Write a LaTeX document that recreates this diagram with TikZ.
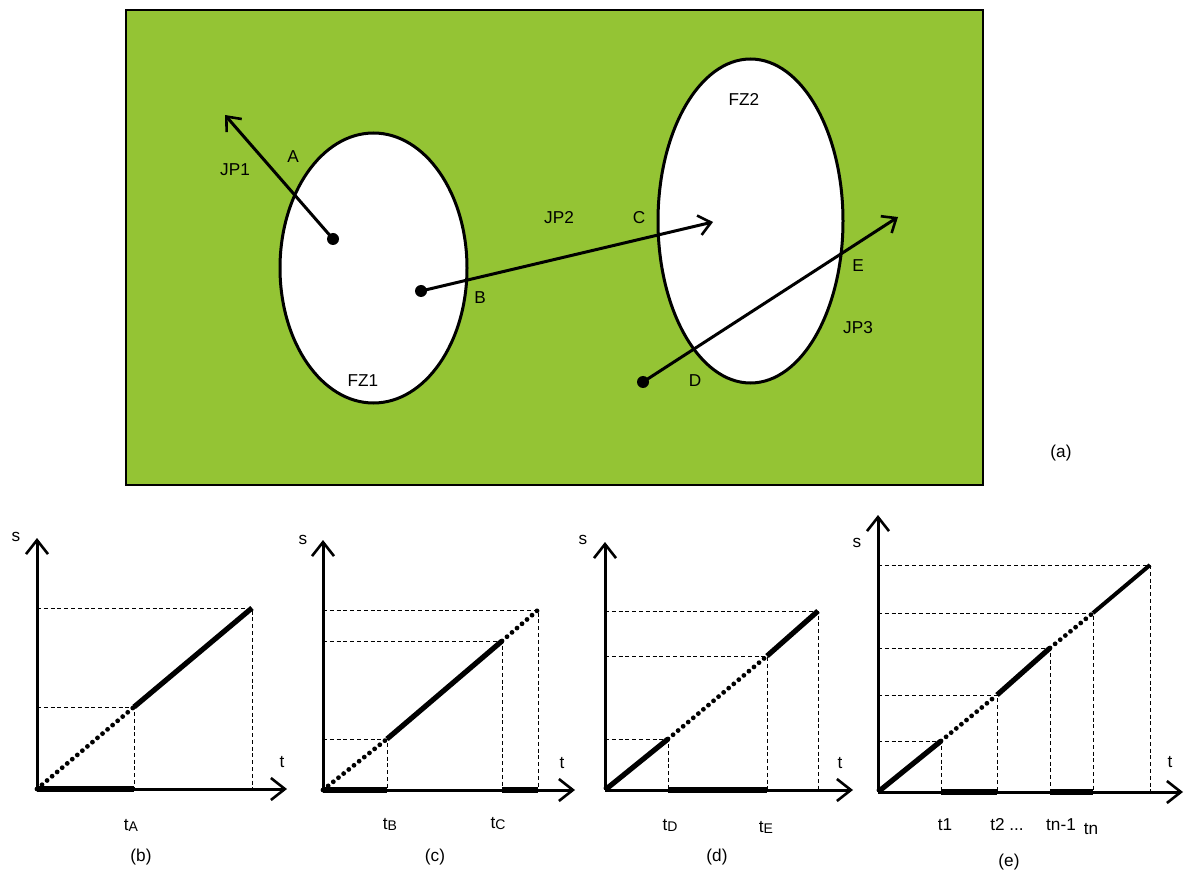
\documentclass[tikz,border=0pt]{standalone}
\usepackage{fontspec}
\setmainfont{Liberation Sans}
\usetikzlibrary{arrows.meta}
\definecolor{fieldgreen}{RGB}{148,196,52}
\tikzset{
  lbl/.style={font=\fontsize{8.6}{10}\selectfont, inner sep=0pt},
  zone/.style={draw=black, fill=white, line width=1.5pt},
  jump/.style={line width=1.5pt, -{Straight Barb[length=6pt,width=10pt,line width=1.3pt]}},
  dotpt/.style={fill=black},
  axis/.style={line width=1.5pt, -{Straight Barb[length=7pt,width=11pt,line width=1.3pt]}},
  guide/.style={line width=0.5pt, dash pattern=on 2pt off 1.4pt},
  solidseg/.style={line width=2.6pt},
  dotseg/.style={line width=2.4pt, line cap=round, dash pattern=on 0pt off 3.3pt},
  busy/.style={line width=2.6pt},
}
\newcommand{\sub}[1]{{\fontsize{7}{8}\selectfont\raisebox{-0.5pt}{#1}}}
\begin{document}
\begin{tikzpicture}[x=0.5pt,y=-0.5pt]
\useasboundingbox (0,0) rectangle (1190,877);
% ---------- (a) ----------
\draw[fill=fieldgreen, line width=1.2pt] (126,10) rectangle (983,485);
\draw[zone] (373.5,268) ellipse [x radius=93.5, y radius=135];
\draw[zone] (750.5,221) ellipse [x radius=92.5, y radius=162];
\node[lbl] (fz1) at (363,381) {FZ1};
\node[lbl] (fz2) at (744,99) {FZ2};
% JP1
\coordinate (p1s) at (333,239);
\coordinate (p1e) at (225,115);
\fill[dotpt] (p1s) circle (6);
\draw[jump] (p1s) -- (p1e);
\node[lbl] (la) at (293,157) {A};
\node[lbl] (jp1) at (235,170) {JP1};
% JP2
\coordinate (p2s) at (421,291);
\coordinate (p2e) at (713,222);
\fill[dotpt] (p2s) circle (6);
\draw[jump] (p2s) -- (p2e);
\node[lbl] (lb) at (480,298) {B};
\node[lbl] (lc) at (639,218) {C};
\node[lbl] (jp2) at (559,218) {JP2};
% JP3
\coordinate (p3s) at (643,382);
\coordinate (p3e) at (898,217);
\fill[dotpt] (p3s) circle (6);
\draw[jump] (p3s) -- (p3e);
\node[lbl] (ld) at (695,381) {D};
\node[lbl] (le) at (858,266) {E};
\node[lbl] (jp3) at (858,328) {JP3};
\node[lbl] (capa) at (1061,453) {(a)};
% ---------- (b) ----------
\coordinate (bo) at (37,789);
\coordinate (bA) at (134,707);
\coordinate (bT) at (252,608);
\draw[guide] (bo |- bT) -- (bT) -- (bT |- bo);
\draw[guide] (bo |- bA) -- (bA) -- (bA |- bo);
\draw[busy] (bo) -- (bA |- bo);
\draw[dotseg] (bo) -- (bA);
\draw[solidseg] (bA) -- (bT);
\draw[axis] (bo) -- (37,538);
\draw[axis] (bo) -- (287,789);
\node[lbl] (bs) at (16,537) {s};
\node[lbl] (bt) at (282,762) {t};
\node[lbl] (btA) at (131,825) {t\sub{A}};
\node[lbl] (capb) at (141,857) {(b)};
% ---------- (c) ----------
\coordinate (co) at (323,790);
\coordinate (cB) at (387,739);
\coordinate (cC) at (502,641);
\coordinate (cT) at (538,610);
\draw[guide] (co |- cT) -- (cT) -- (cT |- co);
\draw[guide] (co |- cC) -- (cC) -- (cC |- co);
\draw[guide] (co |- cB) -- (cB) -- (cB |- co);
\draw[busy] (co) -- (cB |- co);
\draw[busy] (cC |- co) -- (cT |- co);
\draw[dotseg] (co) -- (cB);
\draw[solidseg] (cB) -- (cC);
\draw[dotseg] (cC) -- (cT);
\draw[axis] (co) -- (323,540);
\draw[axis] (co) -- (575,790);
\node[lbl] (cs) at (303,540) {s};
\node[lbl] (ct) at (562,763) {t};
\node[lbl] (ctB) at (390,824) {t\sub{B}};
\node[lbl] (ctC) at (498,824) {t\sub{C}};
\node[lbl] (capc) at (435,857) {(c)};
% ---------- (d) ----------
\coordinate (do) at (605,790);
\coordinate (dD) at (668,739);
\coordinate (dE) at (767,656);
\coordinate (dT) at (818,611);
\draw[guide] (do |- dT) -- (dT) -- (dT |- do);
\draw[guide] (do |- dE) -- (dE) -- (dE |- do);
\draw[guide] (do |- dD) -- (dD) -- (dD |- do);
\draw[busy] (dD |- do) -- (dE |- do);
\draw[solidseg] (do) -- (dD);
\draw[dotseg] (dD) -- (dE);
\draw[solidseg] (dE) -- (dT);
\draw[axis] (do) -- (605,542);
\draw[axis] (do) -- (853,790);
\node[lbl] (ds) at (583,540) {s};
\node[lbl] (dt) at (840,763) {t};
\node[lbl] (dtD) at (670,825) {t\sub{D}};
\node[lbl] (dtE) at (766,827) {t\sub{E}};
\node[lbl] (capd) at (717,857) {(d)};
% ---------- (e) ----------
\coordinate (eo) at (878,792);
\coordinate (e1) at (941,741);
\coordinate (e2) at (997,695);
\coordinate (e3) at (1050,648);
\coordinate (e4) at (1093,613);
\coordinate (eT) at (1150,565);
\foreach \p in {e1,e2,e3,e4,eT}{
  \draw[guide] (eo |- \p) -- (\p) -- (\p |- eo);
}
\draw[busy] (e1 |- eo) -- (e2 |- eo);
\draw[busy] (e3 |- eo) -- (e4 |- eo);
\draw[solidseg] (eo) -- (e1);
\draw[dotseg] (e1) -- (e2);
\draw[solidseg] (e2) -- (e3);
\draw[dotseg] (e3) -- (e4);
\draw[line width=2pt] (e4) -- (eT);
\draw[axis] (eo) -- (878,515);
\draw[axis] (eo) -- (1183,792);
\node[lbl] (es) at (857,543) {s};
\node[lbl] (et) at (1170,762) {t};
\node[lbl] (et1) at (945,825) {t1};
\node[lbl] (et2) at (1007,825) {t2 ...};
\node[lbl] (etn1) at (1061,825) {tn-1};
\node[lbl] (etn) at (1091,829) {tn};
\node[lbl] (cape) at (1009,862) {(e)};
\end{tikzpicture}
\end{document}
